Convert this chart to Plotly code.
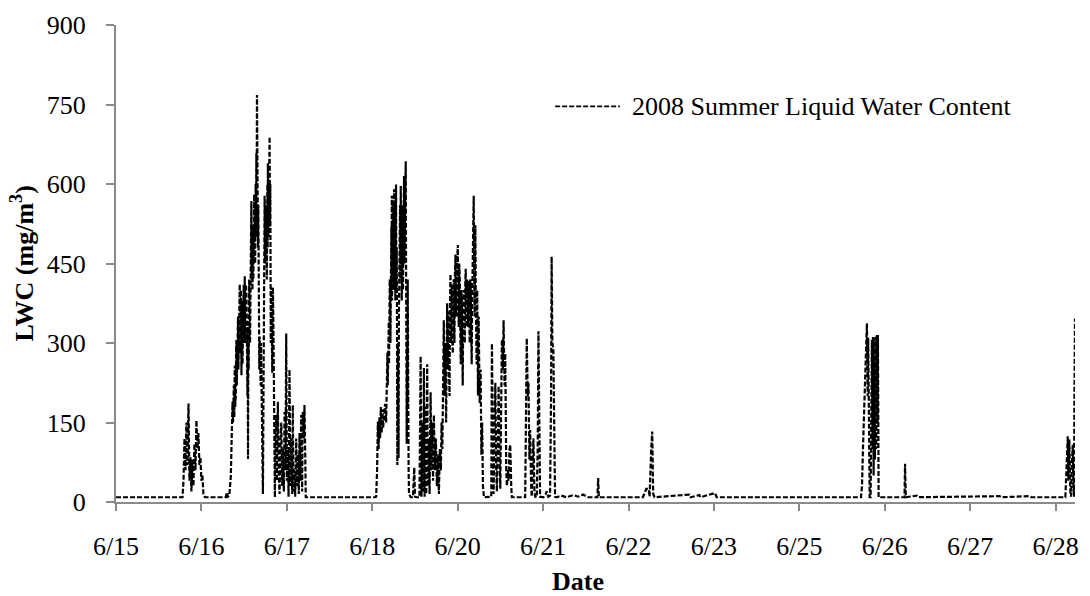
import plotly.graph_objects as go

# ---- axis labels ----
tick_text = ["6/15", "6/16", "6/17", "6/18", "6/20", "6/21", "6/22", "6/23", "6/25", "6/26", "6/27", "6/28"]
tick_days = [15.0, 16.25, 17.5, 18.75, 20.0, 21.25, 22.5, 23.75, 25.0, 26.25, 27.5, 28.75]
y_ticks = [0, 150, 300, 450, 600, 750, 900]

# ---- data: time in day-of-June, LWC in mg/m3 ----
t_quiet0 = [15.000, 15.973]
v_quiet0 = [9, 9]

t_ev1 = [15.988, 16.002, 16.017, 16.031, 16.046, 16.061, 16.075, 16.090, 16.104, 16.119,
         16.133, 16.148, 16.163, 16.177, 16.192, 16.206, 16.221, 16.235, 16.250, 16.265,
         16.279, 16.301]
v_ev1 = [40, 120, 60, 150, 70, 186, 40, 85, 20, 80,
         30, 110, 60, 154, 100, 130, 70, 85, 40, 50,
         15, 9]

t_quiet1 = [16.607, 16.622, 16.636, 16.658]
v_quiet1 = [9, 18, 10, 12]

t_ev2 = [16.680, 16.694, 16.705, 16.713, 16.724, 16.731, 16.738, 16.745, 16.753, 16.758,
         16.763, 16.767, 16.772, 16.779, 16.786, 16.791, 16.796, 16.803, 16.811, 16.816,
         16.821, 16.828, 16.836, 16.840, 16.844, 16.851, 16.859, 16.864, 16.869, 16.876,
         16.884, 16.889, 16.894, 16.901, 16.909, 16.916, 16.923, 16.927, 16.932, 16.937,
         16.942, 16.949, 16.957, 16.962, 16.967, 16.974, 16.981, 16.985, 16.990, 16.997,
         17.005, 17.010, 17.015, 17.022, 17.029, 17.036, 17.044, 17.049, 17.054, 17.058,
         17.063, 17.068, 17.073, 17.078, 17.083, 17.087, 17.092, 17.097, 17.102, 17.110,
         17.117, 17.122, 17.127, 17.134, 17.142, 17.150, 17.161, 17.168, 17.175, 17.182,
         17.190, 17.195, 17.200, 17.207, 17.215, 17.219, 17.223, 17.230, 17.238, 17.243,
         17.248, 17.253, 17.258, 17.265, 17.273, 17.287, 17.296, 17.306, 17.316, 17.325,
         17.335, 17.346, 17.354, 17.369, 17.379, 17.394, 17.408, 17.419, 17.433, 17.442,
         17.456, 17.467, 17.481, 17.491, 17.500, 17.515, 17.525, 17.539, 17.550, 17.564,
         17.579, 17.587, 17.598, 17.612, 17.622, 17.637, 17.652, 17.660, 17.675, 17.685,
         17.700, 17.710, 17.724, 17.733, 17.748, 17.758, 17.768, 17.777]
v_ev2 = [47, 120, 189, 150, 220, 160, 257, 180, 200, 290,
         306, 220, 260, 330, 350, 250, 290, 380, 411, 280,
         300, 400, 239, 340, 380, 260, 330, 400, 410, 300,
         426, 330, 300, 410, 390, 300, 200, 330, 81, 300,
         250, 420, 374, 300, 450, 380, 568, 420, 480, 400,
         522, 420, 460, 580, 540, 450, 600, 500, 658, 550,
         768, 600, 640, 480, 560, 380, 420, 250, 312, 260,
         220, 300, 189, 150, 100, 15, 200, 420, 578, 450,
         480, 560, 520, 420, 600, 480, 639, 500, 560, 620,
         689, 520, 600, 300, 405, 244, 405, 300, 121, 9,
         130, 164, 40, 189, 60, 15, 120, 150, 30, 100,
         20, 170, 60, 318, 40, 100, 10, 250, 30, 120,
         15, 183, 20, 60, 10, 120, 30, 90, 15, 130,
         40, 164, 20, 170, 120, 183, 100, 9]

t_quiet2 = [18.792]
v_quiet2 = [9]

t_ev3 = [18.807, 18.821, 18.832, 18.843, 18.855, 18.865, 18.875, 18.887, 18.899, 18.909,
         18.923, 18.938, 18.953, 18.963, 18.967, 18.972, 18.977, 18.982, 18.987, 18.992,
         18.996, 19.001, 19.006, 19.011, 19.016, 19.021, 19.025, 19.030, 19.033, 19.036,
         19.040, 19.044, 19.049, 19.055, 19.058, 19.062, 19.065, 19.069, 19.074, 19.079,
         19.083, 19.088, 19.093, 19.098, 19.103, 19.108, 19.112, 19.117, 19.122, 19.127,
         19.131, 19.135, 19.140, 19.146, 19.151, 19.157, 19.162, 19.167, 19.171, 19.176,
         19.181, 19.186, 19.191, 19.196, 19.200, 19.205, 19.210, 19.215, 19.220, 19.225,
         19.229, 19.234, 19.240, 19.244, 19.248, 19.254, 19.258, 19.263, 19.266, 19.269,
         19.273, 19.277, 19.282, 19.288, 19.312]
v_ev3 = [10, 60, 152, 100, 160, 120, 179, 130, 175, 140,
         170, 185, 150, 230, 180, 282, 220, 250, 330, 340,
         260, 300, 420, 405, 300, 350, 480, 520, 400, 578,
         380, 450, 560, 540, 400, 470, 560, 590, 420, 500,
         560, 380, 520, 599, 400, 480, 350, 70, 250, 300,
         180, 83, 350, 450, 380, 560, 420, 596, 450, 500,
         380, 420, 540, 560, 400, 480, 580, 615, 450, 500,
         580, 620, 643, 480, 400, 110, 250, 300, 180, 420,
         300, 200, 60, 15, 9]

t_ev4 = [19.346, 19.356, 19.365, 19.375, 19.397, 19.441, 19.458, 19.470, 19.484, 19.496,
         19.506, 19.516, 19.528, 19.540, 19.554, 19.564, 19.579, 19.589, 19.604, 19.615,
         19.627, 19.640, 19.652, 19.666, 19.681, 19.696, 19.710, 19.725, 19.739, 19.754,
         19.764, 19.776, 19.787, 19.797, 19.808, 19.819, 19.831,
         19.839, 19.846, 19.851, 19.856, 19.863, 19.870, 19.875, 19.881, 19.888, 19.895,
         19.901, 19.907, 19.912, 19.918, 19.923, 19.929, 19.936, 19.943, 19.948, 19.953,
         19.960, 19.968, 19.974, 19.980, 19.991, 20.002, 20.009, 20.016, 20.023, 20.031,
         20.038, 20.045, 20.052, 20.060, 20.067, 20.074, 20.081, 20.089, 20.096, 20.104,
         20.111, 20.118, 20.125, 20.133, 20.140, 20.147, 20.154, 20.162, 20.169, 20.176,
         20.183, 20.191, 20.198, 20.205, 20.212, 20.220, 20.227, 20.235, 20.242, 20.249,
         20.254, 20.259, 20.265, 20.271, 20.278, 20.286, 20.291, 20.297, 20.302, 20.307,
         20.314, 20.322, 20.329, 20.336, 20.347, 20.358, 20.370, 20.385]
v_ev4 = [9, 40, 65, 10, 9, 9, 275, 10, 150, 20,
         253, 10, 180, 15, 260, 30, 120, 15, 207, 60,
         150, 40, 164, 60, 120, 30, 90, 15, 100, 60,
         150, 100, 250, 343, 200, 300, 150,
         300, 375, 280, 250, 360, 330, 240, 200, 380, 430,
         320, 300, 410, 400, 300, 280, 400, 420, 330, 300,
         430, 467, 360, 350, 450, 485, 380, 330, 450, 420,
         330, 260, 400, 380, 300, 220, 350, 400, 330, 300,
         410, 440, 350, 330, 420, 380, 330, 417, 350, 300,
         420, 400, 330, 260, 380, 450, 420, 578, 420, 350,
         450, 522, 380, 300, 260, 400, 300, 201, 280, 350,
         250, 187, 220, 250, 89, 150, 30, 9]

t_ev5 = [20.492, 20.501, 20.516, 20.526, 20.541, 20.551, 20.565, 20.574, 20.589, 20.599,
         20.613, 20.624, 20.638, 20.647, 20.661, 20.672, 20.686, 20.696, 20.711, 20.720,
         20.734, 20.745, 20.759, 20.769, 20.784, 20.793]
v_ev5 = [10, 299, 100, 15, 150, 225, 60, 20, 120, 219,
         80, 25, 200, 306, 250, 343, 220, 280, 60, 30,
         60, 40, 100, 108, 30, 9]

t_ev6 = [20.988, 21.002, 21.011, 21.026, 21.036, 21.050, 21.061, 21.075, 21.084, 21.099,
         21.109, 21.123, 21.134, 21.157, 21.171, 21.182, 21.192, 21.206, 21.254, 21.288,
         21.302, 21.327, 21.352, 21.367, 21.375, 21.386, 21.400, 21.415, 21.425, 21.448]
v_ev6 = [9, 150, 309, 200, 225, 80, 136, 30, 10, 80,
         120, 20, 10, 9, 100, 322, 150, 10, 9, 15,
         20, 10, 12, 200, 463, 300, 288, 100, 10, 9]

t_ev7 = [21.517, 21.590, 21.692, 21.764, 21.837, 21.910, 22.045, 22.056, 22.066, 22.711,
         22.760, 22.794, 22.809, 22.832, 22.847, 22.861, 22.882, 23.392, 23.410, 23.537,
         23.555, 23.765, 23.790]
v_ev7 = [12, 9, 13, 10, 14, 9, 9, 45, 9, 9,
         25, 25, 10, 100, 133, 15, 9, 14, 9, 13,
         9, 17, 9]

t_ev8 = [25.902, 25.917, 25.931, 25.941, 25.956, 25.965, 25.979, 25.989, 26.000, 26.008,
         26.019, 26.029, 26.043, 26.052, 26.062, 26.072, 26.077, 26.087, 26.096, 26.106,
         26.116, 26.125, 26.135, 26.145, 26.150, 26.160]
v_ev8 = [9, 30, 100, 152, 220, 250, 300, 337, 200, 310,
         150, 9, 9, 200, 306, 100, 312, 50, 310, 80,
         312, 100, 315, 150, 315, 9]

t_ev9 = [26.539, 26.547, 26.558, 26.718, 26.740, 27.931, 27.956, 28.369, 28.393]
v_ev9 = [9, 72, 9, 12, 9, 11, 9, 11, 9]

t_ev10 = [28.893, 28.913, 28.928, 28.937, 28.951, 28.966, 28.976, 28.991, 29.001, 29.010,
          29.020, 29.026, 29.030, 29.034]
v_ev10 = [9, 60, 124, 40, 118, 20, 10, 80, 108, 30,
          10, 200, 312, 346]

day = (t_quiet0 + t_ev1 + t_quiet1 + t_ev2 + t_quiet2 + t_ev3 + t_ev4 + t_ev5 + t_ev6
       + t_ev7 + t_ev8 + t_ev9 + t_ev10)
lwc = (v_quiet0 + v_ev1 + v_quiet1 + v_ev2 + v_quiet2 + v_ev3 + v_ev4 + v_ev5 + v_ev6
       + v_ev7 + v_ev8 + v_ev9 + v_ev10)

series_name = "2008 Summer Liquid Water Content"

FONT = "Liberation Serif, Times New Roman, serif"
AXIS_GRAY = "#8a8a8a"
DASH = "5px,2px"

fig = go.Figure()
fig.add_trace(go.Scatter(
    x=day, y=lwc, mode="lines", name=series_name, showlegend=False,
    line=dict(color="black", width=2.2, dash=DASH),
))

L, R, T, B = 116, 11, 16, 94
W, H = 1090, 596
pw, ph = W - L - R, H - T - B

def px_x(p):
    return (p - L) / pw

def px_y(p):
    return (H - B - p) / ph

fig.update_layout(
    width=W, height=H,
    margin=dict(l=L, r=R, t=T, b=B, pad=0),
    paper_bgcolor="white", plot_bgcolor="white",
    font=dict(family=FONT, size=26, color="black"),
    xaxis=dict(
        range=[15, 29.034], tickmode="array", tickvals=tick_days, ticktext=tick_text,
        showline=True, linecolor=AXIS_GRAY, linewidth=2, ticks="outside", ticklen=7,
        tickwidth=2, tickcolor=AXIS_GRAY, showgrid=False, zeroline=False,
        tickfont=dict(family=FONT, size=26, color="black"), ticklabelstandoff=13,
    ),
    yaxis=dict(
        range=[0, 900], tickmode="array", tickvals=y_ticks,
        showline=True, linecolor=AXIS_GRAY, linewidth=2, ticks="outside", ticklen=8,
        tickwidth=2, tickcolor=AXIS_GRAY, showgrid=False, zeroline=False,
        tickfont=dict(family=FONT, size=26, color="black"), ticklabelstandoff=15,
    ),
    annotations=[
        dict(text="<b>LWC (mg/m<sup>3</sup>)</b>", xref="paper", yref="paper",
             x=px_x(22.5), y=0.5, textangle=-90, showarrow=False,
             xanchor="center", yanchor="middle",
             font=dict(family=FONT, size=26, color="black")),
        dict(text="<b>Date</b>", xref="paper", yref="paper",
             x=px_x(580), y=px_y(583), showarrow=False,
             xanchor="center", yanchor="middle",
             font=dict(family=FONT, size=26, color="black")),
        dict(text=series_name, xref="paper", yref="paper",
             x=px_x(632), y=px_y(99), showarrow=False,
             xanchor="left", yanchor="middle",
             font=dict(family=FONT, size=26, color="black")),
    ],
    shapes=[
        dict(type="line", xref="paper", yref="paper",
             x0=px_x(557), x1=px_x(622), y0=px_y(99), y1=px_y(99),
             line=dict(color="black", width=1.75, dash=DASH)),
    ],
)

fig.write_html("out.html")
